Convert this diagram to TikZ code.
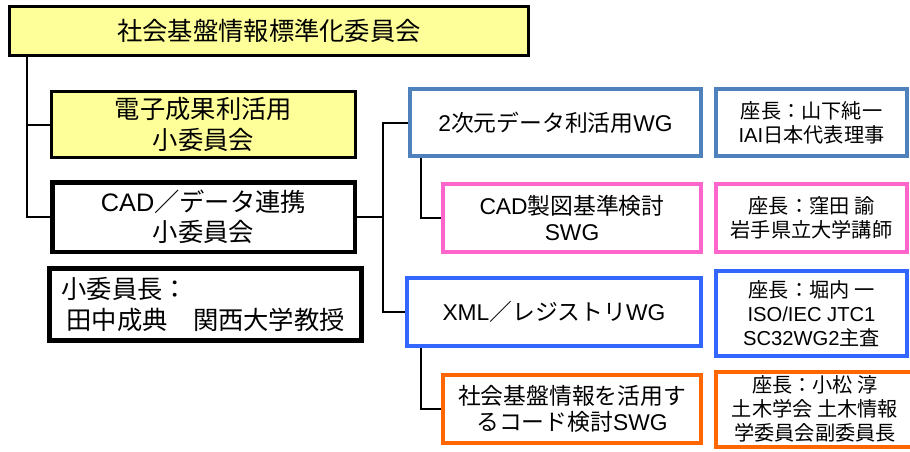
\documentclass[tikz,border=0pt]{standalone}
\usepackage{fontspec}
\setmainfont{Noto Sans CJK JP}
\newfontfamily\enfont{Liberation Sans}
\newcommand\en[1]{{\enfont #1}}
\newcommand\fsz[2]{\fontsize{#1}{#2}\selectfont}
\definecolor{yel}{HTML}{FFFF99}
\definecolor{steel}{HTML}{4F81BD}
\definecolor{pinkc}{HTML}{FF66CC}
\definecolor{bluec}{HTML}{3366FF}
\definecolor{orangec}{HTML}{FF6600}
\tikzset{
  box/.style={draw=black, inner sep=0pt, align=center},
  bigtxt/.style={font=\fsz{25.3}{30.5}},
  wgtxt/.style={font=\fsz{22.8}{26.5}, line width=4pt},
  chtxt/.style={font=\fsz{20.2}{24}, line width=4pt},
  conn/.style={draw=black, line width=2pt},
}
\begin{document}
\begin{tikzpicture}[x=1pt,y=-1pt]
\useasboundingbox (0,0) rectangle (910,451);
% left column
\node[box, bigtxt, line width=3pt, fill=yel, minimum width=519pt, minimum height=49pt] (top) at (269,31) {社会基盤情報標準化委員会};
\node[box, bigtxt, line width=3pt, fill=yel, minimum width=304pt, minimum height=66pt] (sc1) at (203.5,124.5) {電子成果利活用\\小委員会};
\node[box, bigtxt, line width=4.5pt, fill=white, minimum width=302.5pt, minimum height=69.5pt] (sc2) at (203.5,217) {\en{CAD}／データ連携\\小委員会};
\node[box, bigtxt, line width=5pt, fill=white, minimum width=312pt, minimum height=72pt, align=left, text width=288pt, inner xsep=12pt] (chairsc) at (205.5,304.5) {小委員長：\\\hspace{5pt}田中成典　関西大学教授};
% WGs
\node[box, wgtxt, draw=steel, minimum width=291pt, minimum height=67pt] (wg1) at (555.5,122.5) {\en{2}次元データ利活用\en{WG}};
\node[box, wgtxt, draw=pinkc, minimum width=258pt, minimum height=68pt] (swg1) at (572,218) {\en{CAD}製図基準検討\\\en{SWG}};
\node[box, wgtxt, draw=bluec, minimum width=294pt, minimum height=68pt] (wg2) at (554,312) {\en{XML}／レジストリ\en{WG}};
\node[box, wgtxt, draw=orangec, minimum width=258pt, minimum height=68pt] (swg2) at (572,409) {社会基盤情報を活用す\\るコード検討\en{SWG}};
% chairs
\node[box, chtxt, draw=steel, minimum width=191pt, minimum height=67pt] (ch1) at (811.5,122.5) {座長：山下純一\\\en{IAI}日本代表理事};
\node[box, chtxt, draw=pinkc, minimum width=191pt, minimum height=68pt] (ch2) at (811.5,218) {座長：窪田 諭\\岩手県立大学講師};
\node[box, chtxt, draw=bluec, minimum width=191pt, minimum height=85pt] (ch3) at (811.5,313.5) {座長：堀内 一\\\en{ISO/IEC JTC1}\\\en{SC32WG2}主査};
\node[box, chtxt, draw=orangec, minimum width=198pt, minimum height=75pt] (ch4) at (815,409) {座長：小松 淳\\土木学会 土木情報\\学委員会副委員長};
% connector coordinates
\coordinate (trunk) at (27,57);
\coordinate (bus) at (383,217);
% connectors
\draw[conn] (trunk) |- (sc2.west);
\draw[conn] (sc1.west) -| (trunk);
\draw[conn] (sc2.east) -- (sc2.east -| bus);
\draw[conn] (wg1.west) -| (bus) |- (wg2.west);
\draw[conn] ([xshift=13pt]wg1.south west) |- (swg1.west);
\draw[conn] ([xshift=16pt]wg2.south west) |- (swg2.west);
\end{tikzpicture}
\end{document}
